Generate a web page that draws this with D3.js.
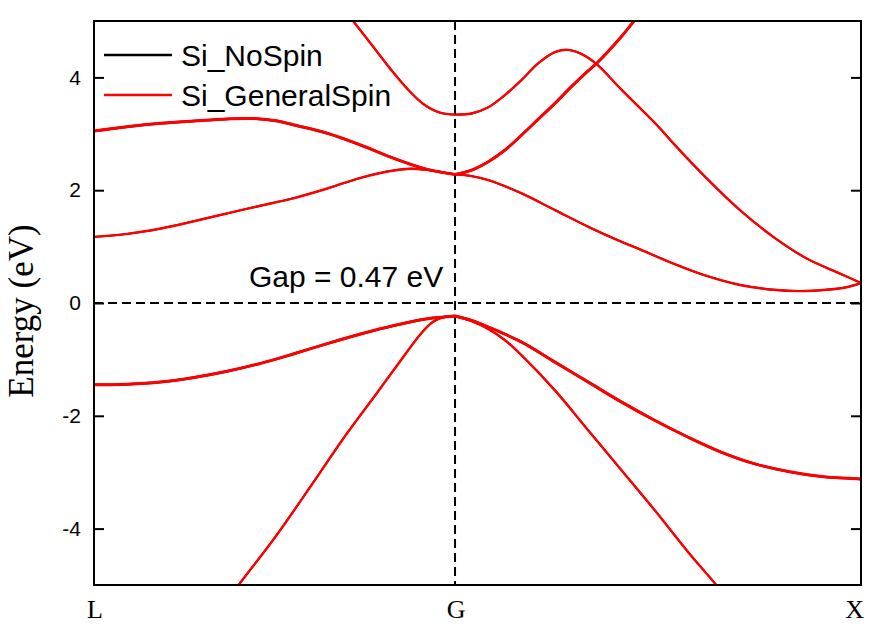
<!DOCTYPE html>
<html>
<head>
<meta charset="utf-8">
<script src="https://cdn.jsdelivr.net/npm/d3@7"></script>
<style>
	body { margin: 0; background: #ffffff; }
</style>
</head>
<body>
<script>
// Path positions (fraction of the L-G-X path) and their labels
var kPoints = [0, 0.4707, 1];
var kLabels = ["L", "G", "X"];

// Energy ticks (eV)
var yTicks = [-4, -2, 0, 2, 4];

// Bands as [k, E] pairs.
// Both calculations give the same bands, so both series share them.
var bandV1 = [[0.16,-5.55],[0.188,-5.01],[0.2347,-4.18],[0.2825,-3.25],[0.326,-2.385],[0.3694,-1.586],
	[0.3999,-1.018],[0.4259,-0.55],[0.4403,-0.35],[0.4546,-0.255],[0.4707,-0.23]];
var bandV2 = [[0,-1.45],[0.0434,-1.44],[0.0869,-1.40],[0.1304,-1.32],[0.1738,-1.21],[0.2173,-1.07],
	[0.2608,-0.90],[0.3042,-0.72],[0.3477,-0.55],[0.3911,-0.40],[0.4346,-0.28],[0.4707,-0.23]];
var bandV3 = [[0.4707,-0.23],[0.4924,-0.31],[0.5141,-0.426],[0.5576,-0.693],[0.601,-1.048],[0.6445,-1.403],
	[0.688,-1.758],[0.7314,-2.083],[0.7748,-2.38],[0.8183,-2.647],[0.8618,-2.853],[0.9052,-2.989],
	[0.9488,-3.078],[1,-3.12]];
var bandV4 = [[0.4707,-0.23],[0.4924,-0.32],[0.5141,-0.46],[0.5359,-0.66],[0.5576,-0.93],[0.601,-1.55],
	[0.6445,-2.26],[0.688,-2.97],[0.7314,-3.68],[0.7748,-4.42],[0.8119,-5.01],[0.84,-5.49]];
var bandC1 = [[0,1.172],[0.0434,1.225],[0.0869,1.32],[0.1304,1.45],[0.1738,1.59],[0.2173,1.725],[0.2608,1.86],
	[0.3042,2.03],[0.3477,2.22],[0.3911,2.35],[0.4128,2.38],[0.4346,2.36],[0.4707,2.28]];
var bandC2 = [[0,3.05],[0.0434,3.126],[0.0869,3.186],[0.1304,3.227],[0.1738,3.263],[0.2086,3.27],
	[0.2391,3.227],[0.2608,3.156],[0.3042,3.009],[0.3477,2.801],[0.3911,2.565],[0.4346,2.369],[0.4707,2.28]];
var bandC3 = [[0.31,5.48],[0.336,5.03],[0.362,4.58],[0.3859,4.16],[0.4077,3.81],[0.4293,3.53],
	[0.4511,3.375],[0.4707,3.34]];
var bandC4 = [[0.4707,3.34],[0.4924,3.36],[0.5141,3.47],[0.5359,3.689],[0.5576,3.956],[0.5793,4.252],
	[0.601,4.448],[0.6184,4.488],[0.6359,4.412],[0.6554,4.234],[0.688,3.778],[0.7336,3.16],[0.7553,2.831],
	[0.7988,2.21],[0.8422,1.647],[0.8857,1.172],[0.9292,0.789],[0.9726,0.522],[1,0.355]];
var bandC5 = [[0.4707,2.28],[0.4924,2.357],[0.5141,2.505],[0.5359,2.712],[0.5576,2.979],[0.5793,3.26],
	[0.601,3.54],[0.6228,3.84],[0.6445,4.12],[0.6554,4.25],[0.688,4.73],[0.7053,5.02],[0.7314,5.45]];
var bandC6 = [[0.4707,2.28],[0.4924,2.25],[0.5141,2.179],[0.5576,1.943],[0.601,1.647],[0.6445,1.35],
	[0.688,1.083],[0.7119,0.95],[0.7553,0.70],[0.7988,0.48],[0.8422,0.32],[0.8857,0.235],
	[0.9205,0.21],[0.9509,0.23],[0.9814,0.28],[1,0.355]];

var bands = [bandV1, bandV2, bandV3, bandV4, bandC1, bandC2, bandC3, bandC4, bandC5, bandC6];
// doubly degenerate bands look a little heavier in the original
var degenerate = [bandV2, bandV3, bandC2, bandC5];

var seriesNames = ["Si_NoSpin", "Si_GeneralSpin"];
var seriesColors = ["#000000", "#ff0000"];

var gapText = "Gap = 0.47 eV";
var gapPos = [0.202, 0.28];

var width = 887,
	height = 637;
var margin = { top: 21, right: 26, bottom: 52, left: 94 };

var svg = d3.select("body").append("svg")
	.attr("width", width)
	.attr("height", height);

var x = d3.scaleLinear()
	.domain([0, 1])
	.range([margin.left, width - margin.right]);

var y = d3.scaleLinear()
	.domain([-5, 5])
	.range([height - margin.bottom, margin.top]);

// clip the bands to the plot frame
svg.append("clipPath")
	.attr("id", "plotclip")
	.append("rect")
	.attr("x", x(0))
	.attr("y", y(5))
	.attr("width", x(1) - x(0))
	.attr("height", y(-5) - y(5));

var line = d3.line()
	.x(function(d) { return x(d[0]); })
	.y(function(d) { return y(d[1]); })
	.curve(d3.curveCatmullRom.alpha(0.5));

// dashed reference lines: Fermi level and the G point
svg.append("line")
	.attr("x1", x(0)).attr("x2", x(1))
	.attr("y1", y(0)).attr("y2", y(0))
	.attr("stroke", "#000").attr("stroke-width", 2)
	.attr("stroke-dasharray", "9,5");
svg.append("line")
	.attr("x1", x(kPoints[1])).attr("x2", x(kPoints[1]))
	.attr("y1", y(5)).attr("y2", y(-5))
	.attr("stroke", "#000").attr("stroke-width", 2)
	.attr("stroke-dasharray", "9,5");

var plot = svg.append("g").attr("clip-path", "url(#plotclip)");

// black (no spin) underneath, red (general spin) on top
seriesNames.forEach(function(name, si) {
	plot.append("g")
		.selectAll("path")
		.data(bands)
		.enter()
		.append("path")
		.attr("d", line)
		.attr("fill", "none")
		.attr("stroke", seriesColors[si])
		.attr("stroke-linejoin", "round")
		.attr("stroke-width", function(d) {
			var w = degenerate.indexOf(d) >= 0 ? 3.0 : 2.4;
			return si === 0 ? w - 0.6 : w;
		});
});

// axes: ticks point inward on both sides
var yAxisLeft = d3.axisLeft(y)
	.tickValues(yTicks)
	.tickSize(-10)
	.tickPadding(13)
	.tickFormat(function(d) { return String(d); });

var gl = svg.append("g")
	.attr("transform", "translate(" + x(0) + ",0)")
	.call(yAxisLeft);
gl.select(".domain").remove();
gl.selectAll("line").attr("stroke-width", 2);
gl.selectAll("text")
	.style("font-family", "'Liberation Sans', Arial, sans-serif")
	.style("font-size", "21px")
	.attr("fill", "#000");

var gr = svg.append("g")
	.attr("transform", "translate(" + x(1) + ",0)")
	.call(d3.axisRight(y).tickValues(yTicks).tickSize(-10).tickFormat(""));
gr.select(".domain").remove();
gr.selectAll("line").attr("stroke-width", 2);

// frame
svg.append("rect")
	.attr("x", x(0))
	.attr("y", y(5))
	.attr("width", x(1) - x(0))
	.attr("height", y(-5) - y(5))
	.attr("fill", "none")
	.attr("stroke", "#000")
	.attr("stroke-width", 2);

// k-point labels
svg.selectAll(".klabel")
	.data(kLabels)
	.enter()
	.append("text")
	.attr("class", "klabel")
	.attr("x", function(d, i) { return i === kLabels.length - 1 ? x(kPoints[i]) + 3 : x(kPoints[i]) + 1; })
	.attr("y", y(-5) + 33)
	.attr("text-anchor", function(d, i) { return i === kLabels.length - 1 ? "end" : "middle"; })
	.style("font-family", "'Liberation Serif', 'Times New Roman', serif")
	.style("font-size", "26px")
	.text(function(d) { return d; });

// y axis title
svg.append("text")
	.attr("transform", "translate(33," + (y(0) + 8) + ") rotate(-90)")
	.attr("text-anchor", "middle")
	.style("font-family", "'Liberation Serif', 'Times New Roman', serif")
	.style("font-size", "35px")
	.text("Energy (eV)");

// gap annotation
svg.append("text")
	.attr("x", x(gapPos[0]))
	.attr("y", y(gapPos[1]))
	.style("font-family", "'Liberation Sans', Arial, sans-serif")
	.style("font-size", "30px")
	.text(gapText);

// legend
var legend = svg.append("g");
seriesNames.forEach(function(name, i) {
	var ly = 55 + i * 40;
	legend.append("line")
		.attr("x1", 104).attr("x2", 172)
		.attr("y1", ly).attr("y2", ly)
		.attr("stroke", seriesColors[i])
		.attr("stroke-width", 2.5);
	legend.append("text")
		.attr("x", 181)
		.attr("y", ly + 10.5)
		.style("font-family", "'Liberation Sans', Arial, sans-serif")
		.style("font-size", "30px")
		.text(name);
});
</script>
</body>
</html>
